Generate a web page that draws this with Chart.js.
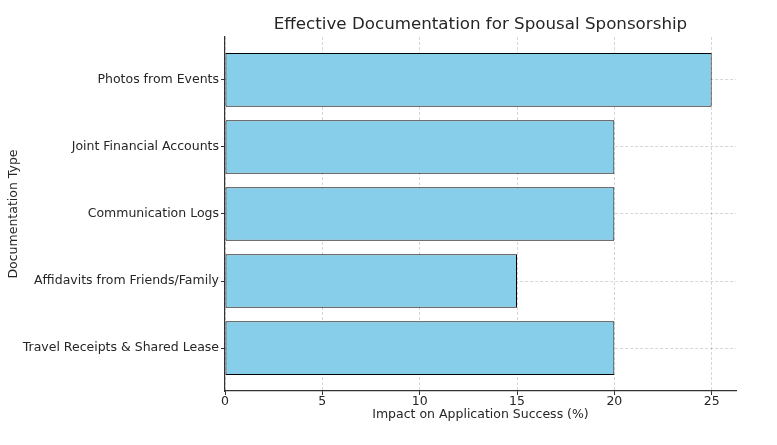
<!DOCTYPE html>
<html>
<head>
<meta charset="utf-8">
<script src="https://cdn.jsdelivr.net/npm/chart.js@4"></script>
<style>
    html, body { margin: 0; padding: 0; background: #fff; }
</style>
</head>
<body>
<canvas id="chart" width="777" height="445"></canvas>
<script>
// bottom to top, as matplotlib barh draws them
const categories = [
    'Travel Receipts & Shared Lease',
    'Affidavits from Friends/Family',
    'Communication Logs',
    'Joint Financial Accounts',
    'Photos from Events'
]
const impact = [20, 15, 20, 20, 25]
const xTicks = [0, 5, 10, 15, 20, 25]
const chartTitle = 'Effective Documentation for Spousal Sponsorship'

const font = 'DejaVu Sans'
const ink = '#262626'

// matplotlib centres the title over the axes, not the whole figure
const axesTitle = {
    id: 'axesTitle',
    afterDraw(chart) {
        const { ctx, chartArea } = chart
        ctx.save()
        ctx.font = '16.7px "' + font + '"'
        ctx.fillStyle = ink
        ctx.textAlign = 'center'
        ctx.textBaseline = 'middle'
        ctx.fillText(chartTitle, (chartArea.left + chartArea.right) / 2, 25)
        ctx.restore()
    }
}

const chart = new Chart(document.getElementById('chart'), {
    type: 'bar',
    data: {
        datasets: [{
            data: impact.map(function (v, i) { return { x: v, y: i } }),
            backgroundColor: '#87ceeb',
            borderColor: '#000000',
            borderWidth: 1,
            borderSkipped: false,
            categoryPercentage: 1,
            barPercentage: 0.8
        }]
    },
    options: {
        indexAxis: 'y',
        responsive: false,
        animation: false,
        layout: { padding: { left: 0, right: 41, top: 37, bottom: 0 } },
        scales: {
            x: {
                type: 'linear',
                min: 0,
                max: 26.25,
                z: 1,
                afterBuildTicks: function (scale) {
                    scale.ticks = xTicks.map(function (v) { return { value: v } })
                },
                afterFit: function (scale) { scale.height = 54 },
                grid: {
                    color: 'rgba(0,0,0,0.16)',
                    tickLength: 4,
                    tickColor: '#333',
                    tickBorderDash: []
                },
                border: { display: true, color: '#333', width: 1.2, dash: [3, 2] },
                ticks: { color: ink, font: { family: font, size: 12.5 }, padding: -1, maxRotation: 0 },
                title: {
                    display: true,
                    text: 'Impact on Application Success (%)',
                    color: ink,
                    font: { family: font, size: 12.5 },
                    padding: { top: 0, bottom: 23 }
                }
            },
            y: {
                type: 'linear',
                min: -0.64,
                max: 4.64,
                offset: false,
                z: 1,
                afterBuildTicks: function (scale) {
                    scale.ticks = categories.map(function (c, i) { return { value: i } })
                },
                afterFit: function (scale) { scale.width = 225 },
                grid: {
                    offset: false,
                    color: 'rgba(0,0,0,0.16)',
                    tickLength: 4,
                    tickColor: '#333',
                    tickBorderDash: []
                },
                border: { display: true, color: '#333', width: 1.2, dash: [3, 2] },
                ticks: {
                    color: ink,
                    font: { family: font, size: 12.5 },
                    padding: 2,
                    callback: function (value) { return categories[value] }
                },
                title: {
                    display: true,
                    text: 'Documentation Type',
                    color: ink,
                    font: { family: font, size: 12.5 },
                    padding: { top: 6, bottom: 0 }
                }
            }
        },
        plugins: {
            legend: { display: false },
            tooltip: { enabled: false },
            title: { display: false }
        }
    },
    plugins: [axesTitle]
})
</script>
</body>
</html>
